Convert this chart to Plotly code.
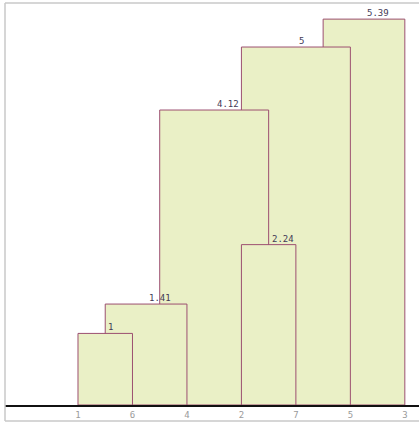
import plotly.graph_objects as go

# Leaf order along the x axis
leaf_labels = ["1", "6", "4", "2", "7", "5", "3"]

# Merge steps: height, left child position, right child position (leaf-index units)
merge_heights = [1, 1.41, 2.24, 4.12, 5, 5.39]
merge_labels = ["1", "1.41", "2.24", "4.12", "5", "5.39"]
merge_left = [0, 0.5, 3, 1.5, 3, 4.5]
merge_right = [1, 2, 4, 3.5, 5, 6]

FILL = "#eaf0c6"
EDGE = "#9c4f70"
TEXT = "#433a55"
GRID = "#c8c8c8"

fig = go.Figure()

order = sorted(range(len(merge_heights)), key=lambda i: -merge_heights[i])
for i in order:
    l, r, h = merge_left[i], merge_right[i], merge_heights[i]
    fig.add_trace(go.Scatter(
        x=[l, l, r, r, l], y=[0, h, h, 0, 0],
        mode="lines", fill="toself", fillcolor=FILL,
        line=dict(color=EDGE, width=1), hoverinfo="skip", showlegend=False,
    ))

for i in range(len(merge_heights)):
    fig.add_annotation(
        x=(merge_left[i] + merge_right[i]) / 2, y=merge_heights[i],
        text=merge_labels[i], showarrow=False,
        xanchor="left", yanchor="bottom", xshift=1, yshift=-1,
        font=dict(family="DejaVu Sans Mono", size=9, color=TEXT),
    )

# frame lines
fig.add_shape(type="line", xref="paper", yref="paper", x0=0, x1=1, y0=1, y1=1,
              line=dict(color=GRID, width=1.5))
fig.add_shape(type="line", xref="paper", yref="paper", x0=0, x1=0, y0=-16/402, y1=1,
              line=dict(color=GRID, width=1.5))
fig.add_shape(type="line", xref="paper", yref="paper", x0=0, x1=1, y0=-16/402, y1=-16/402,
              line=dict(color=GRID, width=1.5))

fig.update_layout(
    width=419, height=423,
    margin=dict(l=5, r=0, t=3, b=18),
    paper_bgcolor="white", plot_bgcolor="white",
    xaxis=dict(
        range=[-1.34, 6.26],
        tickmode="array", tickvals=list(range(len(leaf_labels))), ticktext=leaf_labels,
        showgrid=False, zeroline=False, showline=True, linecolor="#111", linewidth=2,
        ticks="", tickfont=dict(family="DejaVu Sans Mono", size=9, color="#9a9a9a"),
        fixedrange=True,
    ),
    yaxis=dict(
        range=[0, 5.615], showgrid=False, zeroline=False, showticklabels=False,
        showline=False, fixedrange=True,
    ),
)

fig.write_html("out.html")
